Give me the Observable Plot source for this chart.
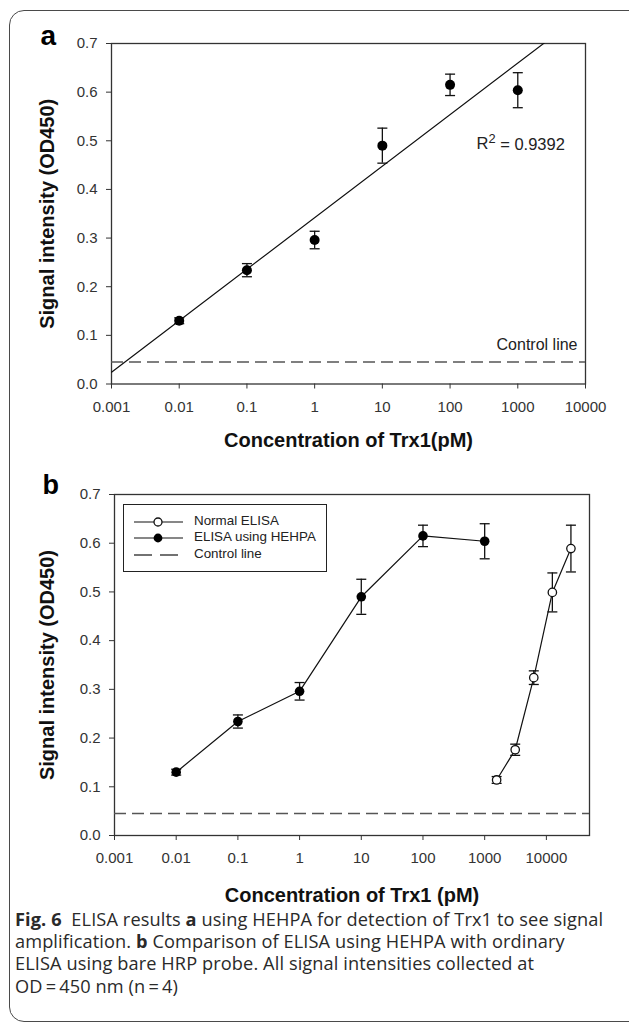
<!DOCTYPE html>
<html><head><meta charset="utf-8">
<script src="https://cdn.jsdelivr.net/npm/d3@7"></script>
<script src="https://cdn.jsdelivr.net/npm/@observablehq/plot@0.6"></script>
<style>
html,body{margin:0;padding:0;background:#fff;overflow:hidden;width:629px;height:1025px;}
#wrap{position:relative;width:629px;height:1025px;overflow:hidden;font-family:"Liberation Sans",Arial,sans-serif;color:#222;}
.border{position:absolute;left:9px;top:10px;width:700px;height:1012px;border:1.5px solid #4a4a4a;border-radius:15px;box-sizing:border-box;}
#pa{position:absolute;left:0;top:0;}
#pb{position:absolute;left:0;top:460px;}
.legend{position:absolute;left:123px;top:504px;width:204px;height:68px;border:1.3px solid #222;box-sizing:border-box;background:#fff;}
.legend .row{position:absolute;left:0;height:16px;width:200px;}
.legend svg{position:absolute;left:9px;top:0;}
.legend span{position:absolute;left:70px;top:-1px;font-size:13.4px;line-height:16px;white-space:nowrap;color:#222;}
.caption{position:absolute;left:15px;top:908px;font-family:"Open Sans","Noto Sans",sans-serif;font-size:18.2px;color:#2a2a2a;white-space:nowrap;letter-spacing:0.1px;}
.caption div{position:absolute;left:0;height:22px;line-height:22px;overflow:visible;}
.caption b{font-weight:bold;}
</style></head><body>
<div id="wrap">
  <div class="border"></div>
  <div id="pa"></div>
  <div id="pb"></div>
  <div class="legend" id="legend"></div>
  <div class="caption" id="caption"></div>
</div>
<script>
// ---- data ----
const concHEHPA = [0.01, 0.1, 1, 10, 100, 1000];
const meanHEHPA = [0.13, 0.234, 0.296, 0.49, 0.615, 0.604];
const sdHEHPA   = [0.006, 0.0135, 0.018, 0.036, 0.022, 0.036];
const concNormal = [1562.5, 3125, 6250, 12500, 25000];
const meanNormal = [0.114, 0.176, 0.324, 0.499, 0.589];
const sdNormal   = [0.007, 0.0115, 0.014, 0.04, 0.048];
const controlLevel = 0.045;
const r2Label = "R² = 0.9392";
const xTicks = [0.001, 0.01, 0.1, 1, 10, 100, 1000, 10000];
const yTicks = [0, 0.1, 0.2, 0.3, 0.4, 0.5, 0.6, 0.7];
const xDomainA = [0.001, 10000];
const xDomainB = [0.001, 50000];
const yDomain = [0, 0.7];
const xTitleA = "Concentration of Trx1(pM)";
const xTitleB = "Concentration of Trx1 (pM)";
const yTitle = "Signal intensity (OD450)";
const legendLabels = ["Normal ELISA", "ELISA using HEHPA", "Control line"];
const controlLabel = "Control line";
const captionLines = [
  "<b>Fig. 6</b>&nbsp; ELISA results <b>a</b> using HEHPA for detection of Trx1 to see signal",
  "amplification. <b>b</b> Comparison of ELISA using HEHPA with ordinary",
  "ELISA using bare HRP probe. All signal intensities collected at",
  "OD\u2009=\u2009450 nm (n\u2009=\u20094)"
];

// ---- derived tables ----
const hehpa = concHEHPA.map((c, i) => ({conc: c, mean: meanHEHPA[i], lo: meanHEHPA[i] - sdHEHPA[i], hi: meanHEHPA[i] + sdHEHPA[i]}));
const normal = concNormal.map((c, i) => ({conc: c, mean: meanNormal[i], lo: meanNormal[i] - sdNormal[i], hi: meanNormal[i] + sdNormal[i]}));

// linear regression of signal on log10(concentration)
const lx = concHEHPA.map(Math.log10);
const mx = d3.mean(lx), my = d3.mean(meanHEHPA);
const slope = d3.sum(lx.map((x, i) => (x - mx) * (meanHEHPA[i] - my))) / d3.sum(lx.map(x => (x - mx) ** 2));
const icpt = my - slope * mx;
const fit = xDomainA.map(c => ({conc: c, val: icpt + slope * Math.log10(c)}));

const capSymbol = {draw(ctx, size) { const h = Math.sqrt(size / Math.PI); ctx.moveTo(-h, 0); ctx.lineTo(h, 0); }};
const FONT = '"Liberation Sans", Arial, sans-serif';
const INK = "#111";

function errorMarks(data) {
  return [
    Plot.ruleX(data, {x: "conc", y1: "lo", y2: "hi", stroke: INK, strokeWidth: 1.3}),
    Plot.dot(data, {x: "conc", y: "lo", symbol: capSymbol, r: 5, fill: "none", stroke: INK, strokeWidth: 1.3}),
    Plot.dot(data, {x: "conc", y: "hi", symbol: capSymbol, r: 5, fill: "none", stroke: INK, strokeWidth: 1.3})
  ];
}
function axes(pad) {
  return [
    Plot.axisX({ticks: xTicks, tickFormat: d => String(d), tickSize: 5, tickPadding: pad, label: null, stroke: "#333", fill: "#333"}),
    Plot.axisY({ticks: yTicks, tickFormat: d3.format(".1f"), tickSize: 5, tickPadding: 9, label: null, stroke: "#333", fill: "#333"}),
    Plot.frame({stroke: "#333", strokeWidth: 1.3})
  ];
}
const STYLE = {fontFamily: FONT, fontSize: "15px", color: "#222", background: "transparent", overflow: "visible"};

const pa = Plot.plot({
  width: 629, height: 460,
  marginTop: 43, marginBottom: 76.5, marginLeft: 111, marginRight: 44,
  style: STYLE,
  x: {type: "log", domain: xDomainA},
  y: {domain: yDomain},
  marks: [
    ...axes(12),
    Plot.ruleY([controlLevel], {stroke: "#555", strokeWidth: 1.5, strokeDasharray: "12,6"}),
    Plot.line(fit, {x: "conc", y: "val", stroke: INK, strokeWidth: 1.2, clip: true}),
    ...errorMarks(hehpa),
    Plot.dot(hehpa, {x: "conc", y: "mean", r: 5, fill: "#000"}),
    Plot.text([r2Label], {text: d => d, frameAnchor: "top-right", dx: -109, dy: 100, textAnchor: "start", lineAnchor: "middle", fontSize: 16.5, fill: "#222"}),
    Plot.text([controlLevel], {y: d => d, text: () => controlLabel, frameAnchor: "right", dx: -8, dy: -17, textAnchor: "end", lineAnchor: "middle", fontSize: 16, fill: "#222"}),
    Plot.text([xTitleA], {text: d => d, frameAnchor: "bottom", dy: 56.5, textAnchor: "middle", lineAnchor: "middle", fontWeight: "bold", fontSize: 20, fill: INK}),
    Plot.text([yTitle], {text: d => d, frameAnchor: "left", dx: -64, rotate: -90, textAnchor: "middle", lineAnchor: "middle", fontWeight: "bold", fontSize: 20, fill: INK}),
    Plot.text(["a"], {text: d => d, frameAnchor: "top-left", dx: -71, dy: 1, lineAnchor: "bottom", textAnchor: "start", fontWeight: "bold", fontSize: 28, fill: "#000"})
  ]
});
document.getElementById("pa").appendChild(pa);

const pb = Plot.plot({
  width: 629, height: 450,
  marginTop: 34, marginBottom: 75, marginLeft: 114, marginRight: 40,
  style: STYLE,
  x: {type: "log", domain: xDomainB},
  y: {domain: yDomain},
  marks: [
    ...axes(12),
    Plot.ruleY([controlLevel], {stroke: "#555", strokeWidth: 1.5, strokeDasharray: "12,6"}),
    Plot.line(hehpa, {x: "conc", y: "mean", stroke: INK, strokeWidth: 1.2}),
    Plot.line(normal, {x: "conc", y: "mean", stroke: INK, strokeWidth: 1.2}),
    ...errorMarks(hehpa),
    ...errorMarks(normal),
    Plot.dot(hehpa, {x: "conc", y: "mean", r: 4.8, fill: "#000"}),
    Plot.dot(normal, {x: "conc", y: "mean", r: 4.2, fill: "#fff", stroke: INK, strokeWidth: 1.3}),
    Plot.text([xTitleB], {text: d => d, frameAnchor: "bottom", dy: 60, textAnchor: "middle", lineAnchor: "middle", fontWeight: "bold", fontSize: 20, fill: INK}),
    Plot.text([yTitle], {text: d => d, frameAnchor: "left", dx: -67, rotate: -90, textAnchor: "middle", lineAnchor: "middle", fontWeight: "bold", fontSize: 20, fill: INK}),
    Plot.text(["b"], {text: d => d, frameAnchor: "top-left", dx: -72, dy: -1, lineAnchor: "bottom", textAnchor: "start", fontWeight: "bold", fontSize: 27, fill: "#000"})
  ]
});
document.getElementById("pb").appendChild(pb);

// R² with a raised, larger superscript like the original
d3.select(pa).selectAll("text").filter(function() { return this.textContent === r2Label; }).each(function() {
  const t = d3.select(this);
  const [pre, post] = r2Label.split("²");
  t.text(pre);
  t.append("tspan").attr("dy", "-0.42em").attr("font-size", "0.78em").text("2");
  t.append("tspan").attr("dy", "0.42em").text(post);
});

// ---- legend ----
const legend = d3.select("#legend");
const rowTops = [9, 25, 42];
legendLabels.forEach((lab, i) => {
  const row = legend.append("div").attr("class", "row").style("top", rowTops[i] + "px");
  const svg = row.append("svg").attr("width", 52).attr("height", 16);
  if (i < 2) {
    svg.append("line").attr("x1", 1).attr("x2", 50).attr("y1", 8).attr("y2", 8).attr("stroke", INK).attr("stroke-width", 1.2);
    svg.append("circle").attr("cx", 25).attr("cy", 8).attr("r", i === 0 ? 4 : 4.4)
      .attr("fill", i === 0 ? "#fff" : "#000").attr("stroke", INK).attr("stroke-width", i === 0 ? 1.3 : 0);
  } else {
    svg.append("line").attr("x1", 1).attr("x2", 50).attr("y1", 8).attr("y2", 8).attr("stroke", "#444").attr("stroke-width", 1.3).attr("stroke-dasharray", "18,8");
  }
  row.append("span").text(lab);
});

// ---- caption ----
const cap = d3.select("#caption");
captionLines.forEach((html, i) => {
  cap.append("div").style("top", (i * 22.2) + "px").html(html);
});
</script>
</body></html>
